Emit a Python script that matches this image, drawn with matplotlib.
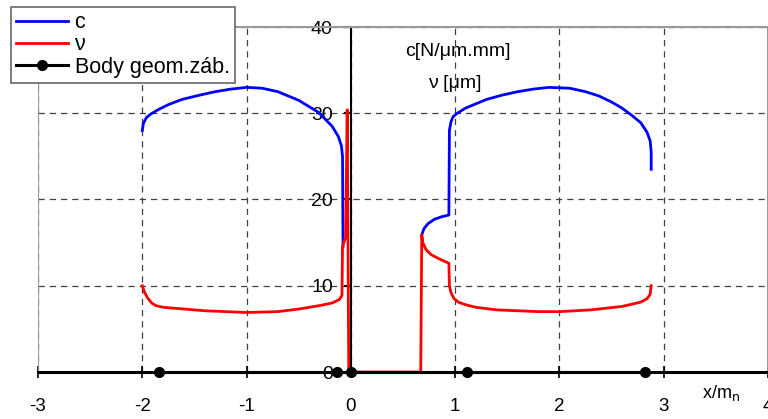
import numpy as np
import matplotlib
matplotlib.use("Agg")
import matplotlib.pyplot as plt

plt.rcParams["font.family"] = ["Liberation Sans", "DejaVu Sans"]
plt.rcParams["axes.unicode_minus"] = False

# c [N/um.mm] - tooth mesh stiffness, NaN splits the two branches
c_x = [-2.0, -1.99, -1.96, -1.92, -1.85, -1.75, -1.62, -1.45, -1.3, -1.15,
       -1.0, -0.85, -0.7, -0.5, -0.31, -0.18, -0.12, -0.09, -0.08, -0.075,
       np.nan,
       0.68, 0.70, 0.74, 0.80, 0.87, 0.94, 0.945, 0.96, 0.98, 1.02, 1.1, 1.3,
       1.45, 1.6, 1.75, 1.9, 2.1, 2.25, 2.38, 2.5, 2.6, 2.7, 2.78, 2.84,
       2.87, 2.88, 2.88]
c_y = [28.0, 28.8, 29.5, 29.9, 30.4, 31.0, 31.6, 32.1, 32.5, 32.8,
       33.0, 32.9, 32.5, 31.5, 30.1, 28.5, 27.3, 26.2, 25.0, 14.5,
       np.nan,
       15.9, 16.6, 17.2, 17.7, 18.0, 18.2, 28.0, 29.0, 29.6, 30.0, 30.6, 31.6,
       32.1, 32.5, 32.8, 33.0, 32.9, 32.5, 32.0, 31.3, 30.6, 29.7, 28.9, 27.8,
       26.8, 25.5, 23.5]

# nu [um] - deflection
nu_x = [-2.0, -1.98, -1.95, -1.91, -1.87, -1.8, -1.7, -1.4, -1.0, -0.7, -0.5,
        -0.3, -0.18, -0.11, -0.085, -0.08, -0.05, -0.035, -0.02, 0.67, 0.68,
        0.69, 0.72, 0.77, 0.85, 0.94, 0.945, 0.96, 0.99, 1.03, 1.1, 1.2, 1.4,
        1.8, 2.0, 2.3, 2.6, 2.78, 2.84, 2.87, 2.88]
nu_y = [10.0, 9.3, 8.6, 8.0, 7.7, 7.5, 7.4, 7.1, 6.9, 7.0, 7.3,
        7.7, 8.0, 8.4, 8.9, 14.6, 15.6, 30.4, 0.0, 0.0, 15.9,
        15.0, 14.2, 13.6, 13.1, 12.6, 10.0, 9.2, 8.5, 8.1, 7.8, 7.5, 7.2,
        7.0, 7.0, 7.2, 7.6, 8.1, 8.5, 9.0, 10.0]

# tooth geometry points on the x axis
body_x = [-1.84, -0.13, 0.0, 1.11, 2.82]
body_y = [0, 0, 0, 0, 0]

x_ticks = [-3, -2, -1, 0, 1, 2, 3, 4]
y_ticks = [0, 10, 20, 30, 40]

fig = plt.figure(figsize=(7.68, 4.19), dpi=100)
ax = fig.add_axes([38 / 768, 1 - 372 / 419, 730 / 768, 345 / 419])

ax.set_xlim(-3, 4)
ax.set_ylim(0, 40)
ax.set_xticks(x_ticks)
ax.set_yticks(y_ticks)

ax.grid(True, color="0.25", linestyle=(0, (5, 4)), linewidth=0.9)
ax.set_axisbelow(True)

ax.spines["left"].set_position(("data", 0))
ax.spines["left"].set_linewidth(1.5)
ax.spines["bottom"].set_linewidth(2.2)
for s in ["top", "right"]:
    ax.spines[s].set_color("0.6")
    ax.spines[s].set_linewidth(1.5)
ax.axvline(-3, color="0.6", lw=1.5, zorder=1)

ax.tick_params(axis="x", direction="inout", length=9, width=1.2,
               pad=14, labelsize=13.5)
ax.tick_params(axis="y", direction="out", length=5, width=1.5,
               pad=8, labelsize=14)

ax.plot(c_x, c_y, color="#0000ff", lw=2, label="c", zorder=3)
ax.plot(nu_x, nu_y, color="#ff0000", lw=2, label="ν", zorder=3)
ax.plot(body_x, body_y, color="black", lw=2.2, marker="o", ms=7,
        label="Body geom.záb.", clip_on=False, zorder=4)

ax.text(1.03, 37.2, "c[N/μm.mm]", ha="center", va="center", fontsize=14)
ax.text(1.0, 33.5, "ν [μm]", ha="center", va="center", fontsize=14)
ax.text(3.55, -2.4, "x/m$_\\mathrm{n}$", ha="center", va="center",
        fontsize=13, clip_on=False)

leg = ax.legend(loc="upper left", bbox_to_anchor=(11 / 768, 1 - 7 / 419),
                bbox_transform=fig.transFigure, borderaxespad=0,
                fancybox=False, edgecolor="0.4", framealpha=1,
                fontsize=15.5, handlelength=2.4, handletextpad=0.3,
                labelspacing=0.05, borderpad=0.25)
leg.get_frame().set_linewidth(1.2)

fig.savefig("out.png", dpi=100)
